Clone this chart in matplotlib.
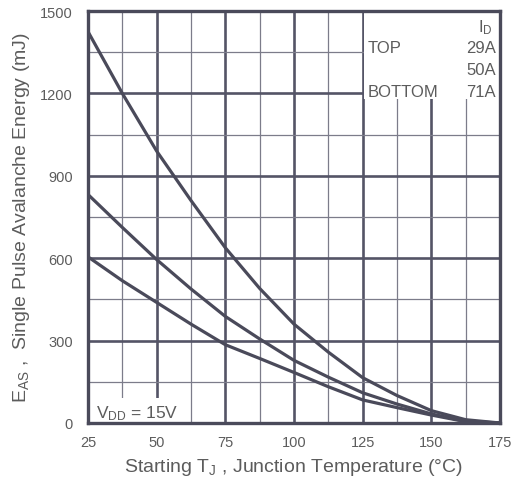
import numpy as np
import matplotlib
matplotlib.use("Agg")
import matplotlib.pyplot as plt
from matplotlib.patches import Rectangle
from matplotlib.ticker import MultipleLocator

plt.rcParams['font.family'] = ['Liberation Sans', 'DejaVu Sans']
plt.rcParams['mathtext.default'] = 'regular'

# starting junction temperature (degC)
temp = [25, 37.5, 50, 62.5, 75, 87.5, 100, 112.5, 125, 137.5, 150, 162.5, 175]
# avalanche energy (mJ)
eas_29a = [1425, 1200, 990, 810, 638, 490, 360, 258, 165, 100, 45, 12, 0]
eas_50a = [832, 712, 595, 488, 388, 306, 228, 167, 110, 69, 33, 6, 0]
eas_71a = [605, 518, 439, 360, 285, 235, 184, 132, 84, 56, 29, 5, 0]

legend_labels = ['TOP', '', 'BOTTOM']
legend_currents = ['29A', '50A', '71A']

xticks = [25, 50, 75, 100, 125, 150, 175]
yticks = [0, 300, 600, 900, 1200, 1500]

ink = '#4a4a5a'
txt = '#5c5c5c'

fig = plt.figure(figsize=(5.19, 4.89), dpi=100)
ax = fig.add_axes([88/519, 1 - 424/489, 412/519, 412/489])

for e in (eas_29a, eas_50a, eas_71a):
    ax.plot(temp, e, color=ink, lw=2.3, solid_capstyle='round', zorder=3)

ax.set_xlim(25, 175)
ax.set_ylim(0, 1500)
ax.set_xticks(xticks)
ax.set_yticks(yticks)
ax.xaxis.set_minor_locator(MultipleLocator(12.5))
ax.yaxis.set_minor_locator(MultipleLocator(150))
ax.grid(which='major', color='#545466', lw=1.9, zorder=1)
ax.grid(which='minor', color='#7c7c8a', lw=0.9, zorder=1)
ax.set_axisbelow(True)
ax.tick_params(which='both', length=0)
ax.tick_params(axis='y', pad=11, labelsize=10.5, labelcolor=txt)
ax.tick_params(axis='x', pad=9, labelsize=10.5, labelcolor=txt)
for s in ax.spines.values():
    s.set_linewidth(2.4)
    s.set_color(ink)
    s.set_zorder(4)

# white boxes behind the annotations
ax.add_patch(Rectangle((125.6, 1180), 50, 330, facecolor='white', edgecolor='none', zorder=2))
ax.add_patch(Rectangle((24, -10), 37, 100, facecolor='white', edgecolor='none', zorder=2))

ax.text(28, 22, 'V$_{DD}$ = 15V', fontsize=12.5, color=txt, zorder=5)
ax.text(172.5, 1425, 'I$_D$', fontsize=12, color=txt, ha='right', zorder=5)
rows_y = [1340, 1260, 1180]
for lab, cur, yy in zip(legend_labels, legend_currents, rows_y):
    ax.text(126.8, yy + 10, lab, fontsize=12, color=txt, zorder=5)
    ax.text(173.5, yy + 10, cur, fontsize=12, color=txt, ha='right', zorder=5)

ax.set_xlabel('Starting T$_J$ , Junction Temperature (°C)', fontsize=14, color=txt, labelpad=5)
ax.set_ylabel('E$_{AS}$ ,  Single Pulse Avalanche Energy (mJ)', fontsize=14, color=txt, labelpad=6)

fig.savefig('out.png', dpi=100)
